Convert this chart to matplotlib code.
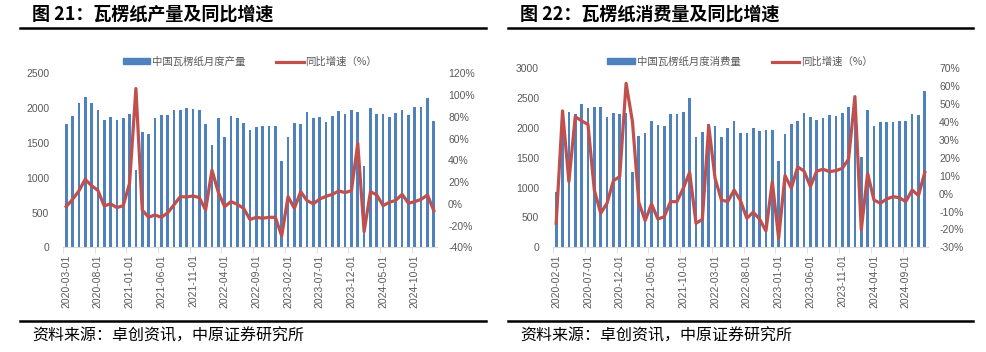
import matplotlib
matplotlib.use('Agg')
import matplotlib.pyplot as plt
from matplotlib.lines import Line2D
import numpy as np

plt.rcParams['font.family'] = ['Noto Sans CJK SC', 'DejaVu Sans']

# chart 21: production, 2020-03 .. 2025-01
prod_ticks = ['2020-03-01', '2020-08-01', '2021-01-01', '2021-06-01', '2021-11-01', '2022-04-01',
              '2022-09-01', '2023-02-01', '2023-07-01', '2023-12-01', '2024-05-01', '2024-10-01']
prod = [1770, 1887, 2069, 2165, 2079, 1978, 1834, 1877, 1825, 1863,
        1911, 1116, 1657, 1624, 1853, 1897, 1897, 1978, 1973, 2002,
        1988, 1968, 1777, 1470, 1853, 1580, 1887, 1863, 1784, 1681,
        1729, 1743, 1743, 1743, 1240, 1580, 1791, 1767, 1944, 1863,
        1873, 1801, 1892, 1959, 1920, 1968, 1944, 1173, 2007, 1920,
        1916, 1877, 1935, 1968, 1901, 2021, 2021, 2145, 1815]
prod_yoy = [-2.6, 4, 11.8, 22.5, 16.7, 12.4, -2, 0, -3.5, -1.7,
            18.8, 106, -5.7, -12.4, -10.3, -12.4, -8.4, -1, 6.6, 6.3,
            7.2, 5.7, -5.7, 31, 10.6, -2.6, 2, -0.5, -4.2, -14.5,
            -12.4, -13.3, -12.4, -12.4, -29.6, 6.6, -4.2, 11.2, 2.9, 0,
            4.4, 6.9, 8.7, 11.8, 10.3, 12.1, 55.6, -25.6, 11.2, 8.1,
            -1.7, 1.4, 3.2, 8.7, 0.5, 2, 4.1, 8.1, -6.3]

# chart 22: consumption, 2020-02 .. 2024-12
cons_ticks = ['2020-02-01', '2020-07-01', '2020-12-01', '2021-05-01', '2021-10-01', '2022-03-01',
              '2022-08-01', '2023-01-01', '2023-06-01', '2023-11-01', '2024-04-01', '2024-09-01']
cons = [922, 2050, 2274, 2235, 2408, 2335, 2347, 2347, 2190, 2246,
        2229, 2257, 1257, 1860, 1916, 2112, 2056, 2034, 2235, 2235,
        2274, 2503, 1855, 1939, 2073, 2034, 1844, 2006, 2112, 1911,
        1916, 1995, 1955, 1967, 1961, 1447, 1905, 2073, 2112, 2246,
        2185, 2140, 2168, 2224, 2201, 2246, 2347, 2420, 1514, 2302,
        2039, 2101, 2106, 2106, 2118, 2112, 2235, 2212, 2615]
cons_yoy = [-16.6, 46.2, 6.7, 43, 40.6, 38.7, 2, -11, -5.4, 7.2,
            9.5, 61.6, 40.2, -4.9, -15.1, -5.8, -14.2, -12.9, -4.5, -4.5,
            3, 11.9, -16.6, -14.4, 37.8, 8.5, -3.6, -4.5, 2, -4,
            -13.8, -10.4, -14.2, -20.9, 6.7, -25, 10.1, 3, 14.9, 12.6,
            3.9, 12.6, 13.6, 12.3, 12.8, 14.1, 19.2, 54.2, -20.3, 11.3,
            -3.6, -5.4, -3, -1.7, -2.3, -4.5, 2, -1.1, 11.9]

W, H = 987, 352
BLUE = '#4F81BD'
RED = '#C0504D'
GREY = '#595959'
NUMF = ['Liberation Sans', 'DejaVu Sans']

fig = plt.figure(figsize=(W / 100, H / 100), dpi=100)


def px_axes(x0, x1, ytop, ybot):
    return fig.add_axes([x0 / W, 1 - ybot / H, (x1 - x0) / W, (ybot - ytop) / H])


def panel(x0, x1, ytop, ybot, bars, yoy, ticks, ymax, ystep, plim, pstep,
          bar_label, title, lx0, lx1, legx):
    ax = px_axes(x0, x1, ytop, ybot)
    x = np.arange(len(bars))
    ax.bar(x, bars, width=0.42, color=BLUE, zorder=2)
    ax.set_xlim(-0.5, len(bars) - 0.5)
    ax.set_ylim(0, ymax)
    ax.set_yticks(np.arange(0, ymax + 1, ystep))
    ax.set_yticklabels([str(v) for v in np.arange(0, ymax + 1, ystep)],
                       family=NUMF, fontsize=7.5, color=GREY)
    for s in ['top', 'left', 'right']:
        ax.spines[s].set_visible(False)
    ax.spines['bottom'].set_color('#D9D9D9')
    ax.tick_params(axis='y', length=0, pad=10)
    ax.set_xticks(x[::5])
    ax.set_xticklabels(ticks, rotation=90, family=NUMF, fontsize=7.5, color=GREY)
    ax.set_xticks(x[::5] - 0.5, minor=True)
    ax.tick_params(axis='x', which='major', length=0, pad=5)
    ax.tick_params(axis='x', which='minor', length=4, color='#D9D9D9')

    ax2 = ax.twinx()
    ax2.plot(x, yoy, color=RED, lw=2.3, zorder=3)
    ax2.set_ylim(plim[0], plim[1])
    pt = np.arange(plim[0], plim[1] + 1, pstep)
    ax2.set_yticks(pt)
    ax2.set_yticklabels(['%d%%' % v for v in pt], family=NUMF, fontsize=7.5, color=GREY)
    ax2.tick_params(axis='y', length=0, pad=8)
    for s in ['top', 'left', 'right', 'bottom']:
        ax2.spines[s].set_visible(False)

    # legend
    handles = [plt.Rectangle((0, 0), 1, 1, color=BLUE),
               Line2D([0], [0], color=RED, lw=2.3)]
    fig.legend(handles, [bar_label, '同比增速（%）'], loc='center',
               bbox_to_anchor=(legx / W, 1 - 62 / H), ncol=2, frameon=False,
               fontsize=7.5, labelcolor=GREY, handlelength=2.6, handleheight=0.5,
               columnspacing=3.0, handletextpad=0.2)

    # title, rules and source
    fig.text((lx0 + 12) / W, 1 - 14 / H, title, fontsize=13, fontweight='bold',
             va='center', ha='left')
    fig.add_artist(Line2D([lx0 / W, lx1 / W], [1 - 28 / H] * 2, color='black', lw=1.8))
    fig.add_artist(Line2D([lx0 / W, lx1 / W], [1 - 321 / H] * 2, color='black', lw=1.8))
    fig.text((lx0 + 12) / W, 1 - 336 / H, '资料来源：卓创资讯，中原证券研究所',
             fontsize=11.5, va='center', ha='left')


panel(63, 437, 73.3, 247.3, prod, prod_yoy, prod_ticks, 2500, 500, (-40, 120), 20,
      '中国瓦楞纸月度产量', '图 21：瓦楞纸产量及同比增速', 20, 486, 250)
panel(553, 928, 68.3, 247.3, cons, cons_yoy, cons_ticks, 3000, 500, (-30, 70), 10,
      '中国瓦楞纸月度消费量', '图 22：瓦楞纸消费量及同比增速', 508, 973, 740)

fig.savefig('out.png', dpi=100)
